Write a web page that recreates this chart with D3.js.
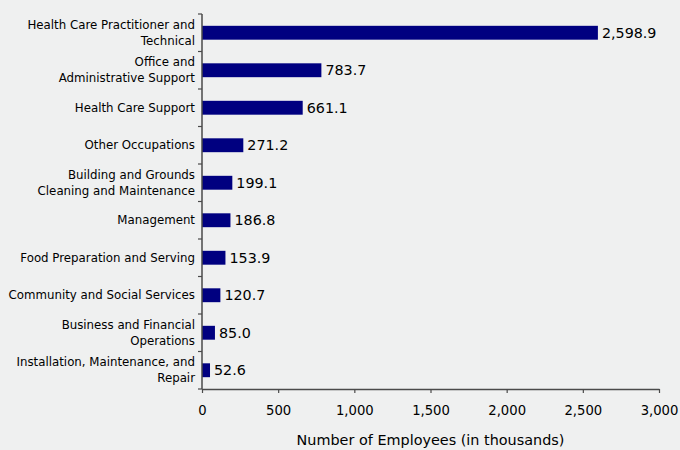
<!DOCTYPE html>
<html>
<head>
<meta charset="utf-8">
<script src="https://cdn.jsdelivr.net/npm/d3@7"></script>
<style>
  html, body { margin: 0; padding: 0; background: #eff0f0; }
  svg { display: block; font-family: "DejaVu Sans", Verdana, sans-serif; }
</style>
</head>
<body>
<svg id="chart" width="680" height="450"></svg>
<script>
// Occupation categories, top to bottom
const categories = [
  ["Health Care Practitioner and", "Technical"],
  ["Office and", "Administrative Support"],
  ["Health Care Support"],
  ["Other Occupations"],
  ["Building and Grounds", "Cleaning and Maintenance"],
  ["Management"],
  ["Food Preparation and Serving"],
  ["Community and Social Services"],
  ["Business and Financial", "Operations"],
  ["Installation, Maintenance, and", "Repair"]
];
// Employees, in thousands
const values = [2598.9, 783.7, 661.1, 271.2, 199.1, 186.8, 153.9, 120.7, 85.0, 52.6];
const xTicks = [0, 500, 1000, 1500, 2000, 2500, 3000];
const axisTitle = "Number of Employees (in thousands)";

const svg = d3.select("#chart");
const plotL = 202, plotR = 659, plotT = 14, plotB = 389;

const x = d3.scaleLinear().domain([0, 3000]).range([plotL, plotR]);
const y = d3.scaleBand().domain(d3.range(values.length)).range([plotT, plotB]).paddingInner(0.63).paddingOuter(0.315);
const band = d3.scaleBand().domain(d3.range(values.length)).range([plotT, plotB]);

// Bars
svg.append("g").selectAll("rect").data(values).join("rect")
  .attr("x", x(0))
  .attr("y", (d, i) => y(i))
  .attr("width", d => x(d) - x(0))
  .attr("height", y.bandwidth())
  .attr("fill", "#000080");

// Value labels
svg.append("g").selectAll("text").data(values).join("text")
  .attr("x", d => x(d) + 4)
  .attr("y", (d, i) => y(i) + y.bandwidth() / 2 + 5)
  .attr("font-size", 14.3)
  .attr("fill", "#000")
  .text(d => d3.format(",.1f")(d));

// Y axis line and ticks at band boundaries
const axisColor = "#4a4a4a";
const gy = svg.append("g");
gy.append("line").attr("x1", plotL).attr("x2", plotL).attr("y1", plotT).attr("y2", plotB)
  .attr("stroke", axisColor).attr("stroke-width", 1.5);
gy.selectAll("line.tk").data(d3.range(values.length + 1)).join("line")
  .attr("class", "tk")
  .attr("x1", plotL - 4).attr("x2", plotL)
  .attr("y1", i => plotT + i * band.step()).attr("y2", i => plotT + i * band.step())
  .attr("stroke", axisColor).attr("stroke-width", 1.2);

// Category labels
const lineH = 16;
const lab = svg.append("g").selectAll("text").data(categories).join("text")
  .attr("text-anchor", "end")
  .attr("font-size", 11.8)
  .attr("fill", "#000")
  .attr("transform", (d, i) => `translate(${plotL - 7},${band(i) + band.bandwidth() / 2})`);
lab.selectAll("tspan").data(d => d.map((t, k) => ({ t, k, n: d.length }))).join("tspan")
  .attr("x", 0)
  .attr("y", d => (d.k - (d.n - 1) / 2) * lineH + 4)
  .text(d => d.t);

// X axis
const gx = svg.append("g").attr("transform", `translate(0,${plotB})`)
  .call(d3.axisBottom(x).tickValues(xTicks).tickFormat(d3.format(",")).tickSize(4).tickSizeOuter(0).tickPadding(13));
gx.select(".domain").attr("stroke", axisColor).attr("stroke-width", 1.5);
gx.selectAll(".tick line").attr("stroke", axisColor).attr("stroke-width", 1.2);
gx.selectAll(".tick text").attr("font-size", 13.2).attr("fill", "#000")
  .attr("font-family", "DejaVu Sans, Verdana, sans-serif");

// Axis title
svg.append("text")
  .attr("x", (plotL + plotR) / 2)
  .attr("y", 445)
  .attr("text-anchor", "middle")
  .attr("font-size", 14.4)
  .attr("fill", "#000")
  .text(axisTitle);
</script>
</body>
</html>
